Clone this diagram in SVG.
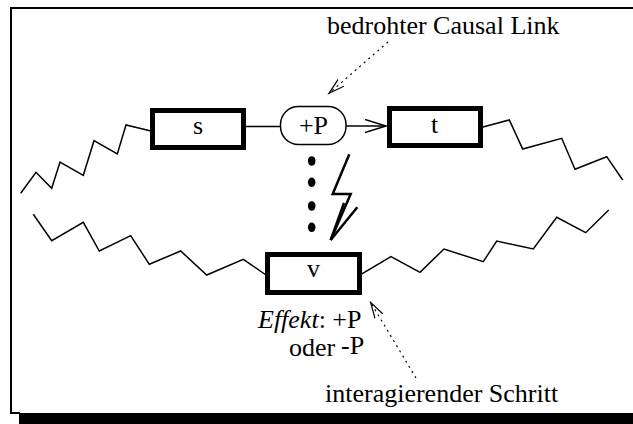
<svg xmlns="http://www.w3.org/2000/svg" width="633" height="424" viewBox="0 0 633 424">
<style>
text{font-family:"Liberation Serif","Times New Roman",serif;font-size:26px;fill:#000}
.box{fill:#fff;stroke:#000;stroke-width:5}
.thin{fill:none;stroke:#000;stroke-width:1.5;stroke-linejoin:miter}
.dot{fill:none;stroke:#000;stroke-width:1.2;stroke-dasharray:2 4}
.bolt{fill:none;stroke:#000;stroke-width:2.5;stroke-linejoin:miter}
</style>
<defs>
<marker id="open" markerUnits="userSpaceOnUse" markerWidth="24" markerHeight="16" refX="21" refY="7" orient="auto" viewBox="0 0 24 16">
<path d="M0,0.5 L21,7 L0,13.5" fill="none" stroke="#000" stroke-width="1.5"/>
</marker>
<marker id="dhead" markerUnits="userSpaceOnUse" markerWidth="18" markerHeight="12" refX="16" refY="5" orient="auto" viewBox="0 0 18 12">
<path d="M0,0.5 L16,5 L0,9.5" fill="none" stroke="#000" stroke-width="1.2"/>
</marker>
</defs>
<g id="frame">
<line x1="11" y1="8" x2="11" y2="414" stroke="#000" stroke-width="2"/>
<line x1="10" y1="8" x2="633" y2="8" stroke="#000" stroke-width="2"/>
<line x1="10" y1="413" x2="20" y2="413" stroke="#000" stroke-width="2"/>
<rect x="19" y="413" width="614" height="11" fill="#000"/>
</g>
<g id="connectors">
<polyline class="thin" points="150,130.7 126,125 117.3,154 94,140.7 83.3,175.3 60,162 51.7,188.3 36,172.3 20.7,193.3"/>
<polyline class="thin" points="482,127.3 509.3,120 522.7,149 561.7,138.3 575,169.3 606.7,156.7 622.7,180"/>
<polyline class="thin" points="33.3,214.3 51.7,240.7 83.3,222.3 99.3,251 130.7,235.7 149.3,264.3 180.7,251 206.7,275 243.3,259.3 266,275"/>
<polyline class="thin" points="361,274.3 391,256.7 420,272.3 444,249 483.3,261.7 496.7,241 533.3,249 556.7,217.3 585.7,232.7 608.7,210"/>
<line class="thin" x1="246" y1="126.5" x2="280" y2="126.5"/>
<line class="thin" x1="346" y1="126" x2="386" y2="126" marker-end="url(#open)"/>
<ellipse cx="311.7" cy="161" rx="3.8" ry="4.8"/>
<ellipse cx="311.7" cy="182.3" rx="3.8" ry="4.8"/>
<ellipse cx="311.7" cy="206" rx="3.8" ry="4.8"/>
<ellipse cx="311.7" cy="227.3" rx="3.8" ry="4.8"/>
<polyline class="bolt" points="349.3,154.3 332.7,194 350.7,194 330.7,240"/>
<line class="bolt" x1="330.7" y1="240" x2="357.3" y2="207.3"/>
<line class="bolt" x1="330.7" y1="240" x2="344" y2="203"/>
<line class="dot" x1="388" y1="42" x2="329" y2="93.3" marker-end="url(#dhead)"/>
<line class="dot" x1="416" y1="378" x2="370.6" y2="302.3" marker-end="url(#dhead)"/>
</g>
<g id="s">
<rect class="box" x="152.5" y="110.5" width="91" height="37"/>
<text x="198" y="133.5" text-anchor="middle">s</text>
</g>
<g id="P">
<rect x="280.5" y="106.5" width="65.5" height="38" rx="18" ry="18" fill="#fff" stroke="#000" stroke-width="1.5"/>
<text x="313.5" y="133.5" text-anchor="middle">+P</text>
</g>
<g id="t">
<rect class="box" x="389.5" y="108.5" width="91" height="37"/>
<text x="434.5" y="133" text-anchor="middle">t</text>
</g>
<g id="v">
<rect class="box" x="267.5" y="254.5" width="92" height="38"/>
<text x="313.5" y="277" text-anchor="middle">v</text>
</g>
<g id="labels">
<text x="327" y="33.5">bedrohter Causal Link</text>
<text x="258" y="328"><tspan font-style="italic">Effekt</tspan>: +P</text>
<text x="289" y="356">oder</text>
<text x="341" y="354">-P</text>
<text x="325" y="402">interagierender Schritt</text>
</g>
</svg>
